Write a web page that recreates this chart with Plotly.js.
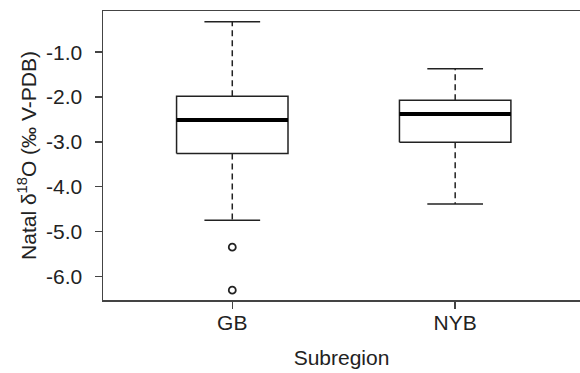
<!DOCTYPE html>
<html>
<head>
<meta charset="utf-8">
<script src="https://cdn.plot.ly/plotly-3.0.1.min.js"></script>
<style>html,body{margin:0;padding:0;background:#fff;}#chart{width:580px;height:373px;}</style>
</head>
<body>
<div id="chart"></div>
<script>
// Data
const categories = ["GB", "NYB"];
const upperWhisker = [-0.32, -1.37];
const q3 = [-1.98, -2.07];
const median = [-2.51, -2.38];
const q1 = [-3.26, -3.01];
const lowerWhisker = [-4.75, -4.39];
const outlierCategory = ["GB", "GB"];
const outlierValues = [-5.35, -6.31];
const yTickValues = [-1, -2, -3, -4, -5, -6];
const yTickLabels = ["-1.0", "-2.0", "-3.0", "-4.0", "-5.0", "-6.0"];

const boxHalf = 0.25, capHalf = 0.125;
const lineColor = "#222";
const traces = [];
categories.forEach((c, i) => {
  traces.push({type: "scatter", mode: "lines", hoverinfo: "skip", showlegend: false,
    x: [i - boxHalf, i + boxHalf, i + boxHalf, i - boxHalf, i - boxHalf],
    y: [q1[i], q1[i], q3[i], q3[i], q1[i]],
    line: {color: lineColor, width: 1.5}});
  traces.push({type: "scatter", mode: "lines", hoverinfo: "skip", showlegend: false,
    x: [i - boxHalf, i + boxHalf], y: [median[i], median[i]],
    line: {color: "#000", width: 4}});
  traces.push({type: "scatter", mode: "lines", hoverinfo: "skip", showlegend: false,
    x: [i, i, null, i, i], y: [q3[i], upperWhisker[i], null, q1[i], lowerWhisker[i]],
    line: {color: lineColor, width: 1.5, dash: "6px,4px"}});
  traces.push({type: "scatter", mode: "lines", hoverinfo: "skip", showlegend: false,
    x: [i - capHalf, i + capHalf, null, i - capHalf, i + capHalf],
    y: [upperWhisker[i], upperWhisker[i], null, lowerWhisker[i], lowerWhisker[i]],
    line: {color: lineColor, width: 1.5}});
});
traces.push({type: "scatter", mode: "markers", showlegend: false,
  x: outlierCategory.map(c => categories.indexOf(c)), y: outlierValues,
  marker: {symbol: "circle-open", size: 7, color: lineColor, line: {width: 1.8, color: lineColor}}});

const font = {family: "Liberation Sans, Arial, sans-serif", size: 21, color: "#222"};
const layout = {
  width: 580, height: 373,
  margin: {l: 103, r: 0, t: 11, b: 73},
  paper_bgcolor: "#fff", plot_bgcolor: "#fff",
  font: font,
  showlegend: false,
  xaxis: {
    range: [-0.58, 1.56], tickvals: categories.map((c, i) => i), ticktext: categories,
    showgrid: false, zeroline: false, showline: true, mirror: true,
    linecolor: "#444", linewidth: 1.5, ticks: "outside", ticklen: 7, tickwidth: 1.5, tickcolor: "#444",
    tickfont: font, ticklabelstandoff: -4,
    title: {text: "Subregion", font: font, standoff: 17}
  },
  yaxis: {
    range: [-6.53, -0.08], tickvals: yTickValues, ticktext: yTickLabels,
    showgrid: false, zeroline: false, showline: true, mirror: true,
    linecolor: "#444", linewidth: 1.5, ticks: "outside", ticklen: 7, tickwidth: 1.5, tickcolor: "#444",
    tickfont: font, ticklabelstandoff: 8,
    title: {text: "Natal δ<sup>18</sup>O (‰ V-PDB)", font: font, standoff: 4}
  }
};
Plotly.newPlot("chart", traces, layout, {staticPlot: true, displayModeBar: false});
</script>
</body>
</html>
